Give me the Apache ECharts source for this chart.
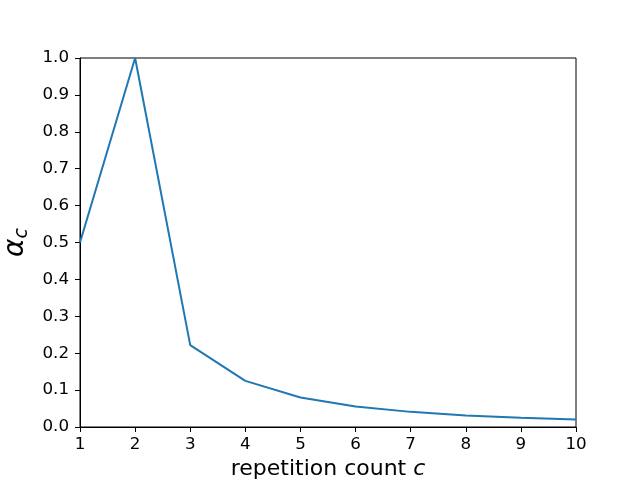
<!DOCTYPE html>
<html><head><meta charset="utf-8">
<script src="https://cdn.jsdelivr.net/npm/echarts@6/dist/echarts.min.js"></script>
<style>html,body{margin:0;padding:0;background:#fff}#c{width:640px;height:480px}</style>
</head><body><div id="c"></div>
<script>
const counts = [1, 2, 3, 4, 5, 6, 7, 8, 9, 10];
const alphaValues = [0.5, 1.0, 0.222, 0.125, 0.08, 0.0556, 0.041, 0.031, 0.025, 0.02];
const xTicks = [1, 2, 3, 4, 5, 6, 7, 8, 9, 10];
const yTicks = [0.0, 0.1, 0.2, 0.3, 0.4, 0.5, 0.6, 0.7, 0.8, 0.9, 1.0];

const chart = echarts.init(document.getElementById('c'), null, {renderer: 'canvas'});
const font = 'DejaVu Sans';
chart.setOption({
  animation: false,
  backgroundColor: '#fff',
  grid: {left: 80, top: 58, width: 496, height: 369, containLabel: false, outerBoundsMode: 'none', show: true, borderColor: '#000', borderWidth: 1, backgroundColor: 'transparent'},
  xAxis: {
    type: 'value', min: 1, max: 10, interval: 1,
    name: '{n|repetition count }{i|c}', nameLocation: 'middle', nameGap: 26,
    nameTextStyle: {rich: {n: {fontFamily: font, fontSize: 22, color: '#000'}, i: {fontFamily: font, fontSize: 22, fontStyle: 'italic', color: '#000'}}},
    axisLine: {show: true, lineStyle: {color: '#000', width: 1}},
    axisTick: {show: true, inside: false, length: 5, lineStyle: {color: '#000'}},
    axisLabel: {color: '#000', fontFamily: font, fontSize: 16.7, margin: 9, formatter: v => String(v)},
    splitLine: {show: false}
  },
  yAxis: {
    type: 'value', min: 0, max: 1, interval: 0.1,
    name: '{a|α}{s|c}', nameLocation: 'middle', nameGap: 43, nameRotate: 90,
    nameTextStyle: {rich: {a: {fontFamily: font, fontSize: 28, fontStyle: 'italic', color: '#000'}, s: {fontFamily: font, fontSize: 19, fontStyle: 'italic', color: '#000', padding: [12, 0, 0, 0]}}},
    axisLine: {show: true, lineStyle: {color: '#000', width: 1}},
    axisTick: {show: true, inside: false, length: 5, lineStyle: {color: '#000'}},
    axisLabel: {color: '#000', fontFamily: font, fontSize: 16.7, margin: 11, formatter: v => v.toFixed(1)},
    splitLine: {show: false}
  },
  series: [{
    type: 'line',
    data: counts.map((c, i) => [c, alphaValues[i]]),
    showSymbol: false, symbol: 'none',
    lineStyle: {color: '#1f77b4', width: 2},
    clip: true
  }]
});
</script></body></html>
